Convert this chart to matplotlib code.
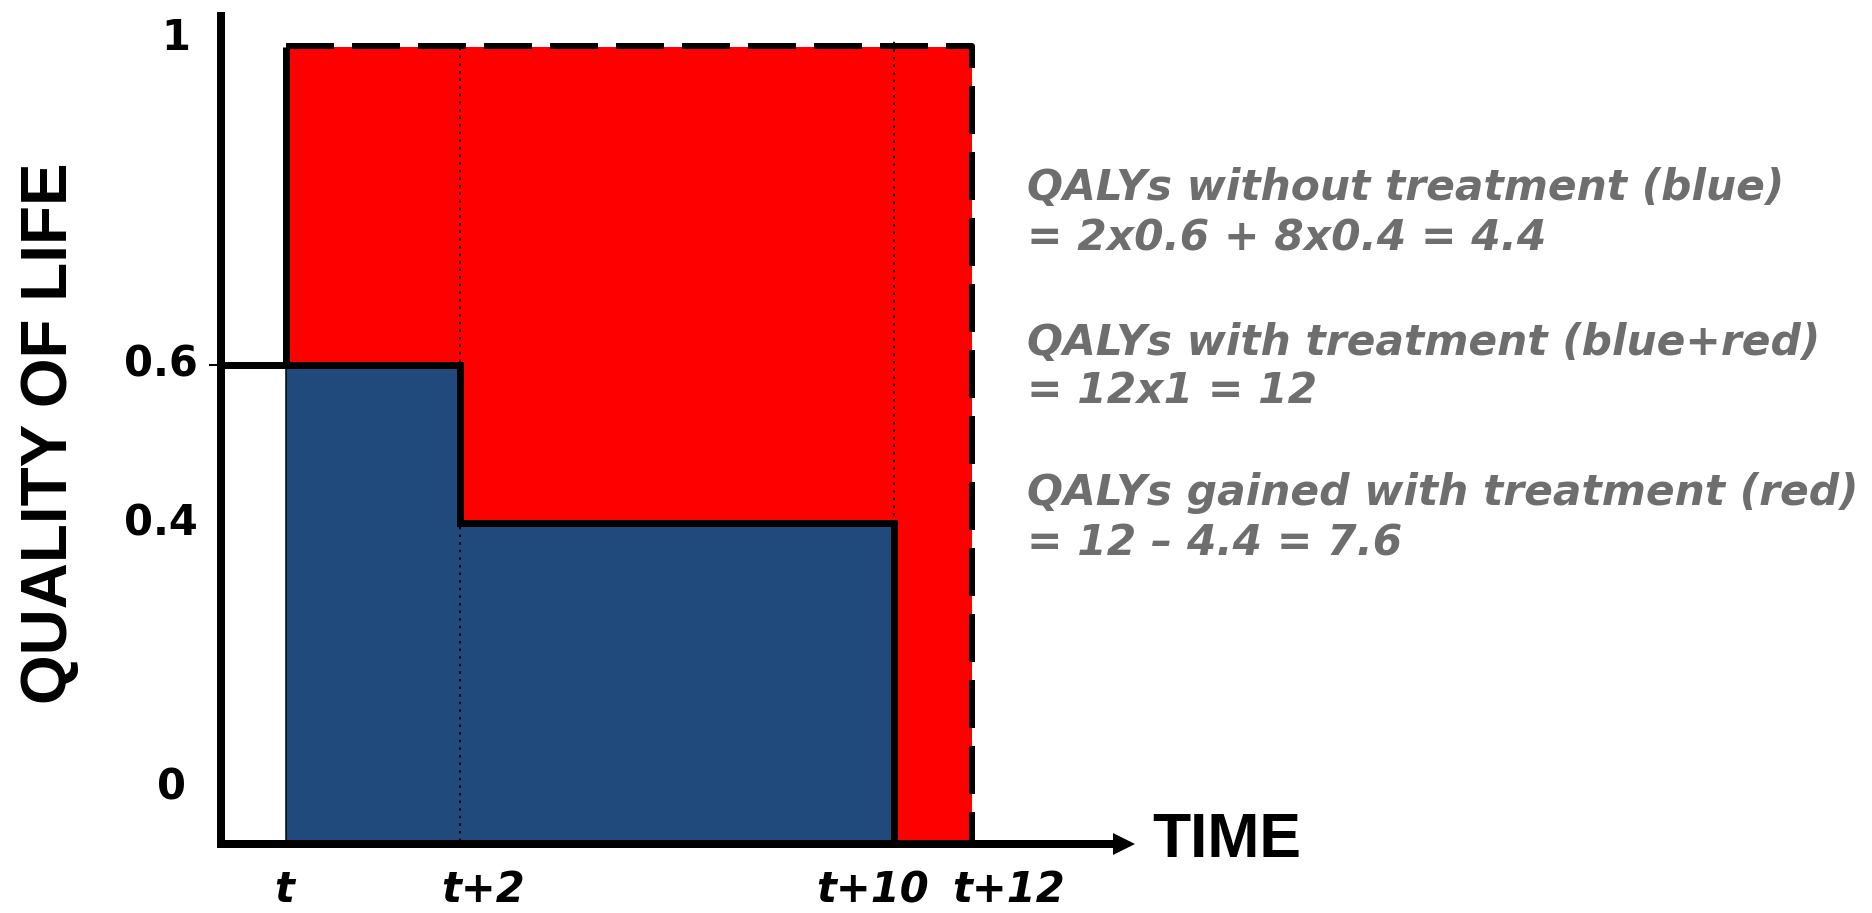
import numpy as np
import matplotlib.pyplot as plt

# --- Data (schematic positions) ---
time_labels = ["t", "t+2", "t+10", "t+12"]
time_pos = [0, 2.86, 10, 11.28]          # where each time mark sits along the axis
label_pos = [-0.04, 3.23, 9.65, 11.89]   # where the tick texts sit

qol_without = [0.6, 0.4]                 # blue steps: t..t+2, t+2..t+10
qol_with = 1.0                           # red block: t..t+12

ytick_vals = [1.011, 0.6, 0.4, 0.067]
ytick_text = ["1", "0.6", "0.4", "0"]
ytick_x = [-1.82, -2.07, -2.07, -1.90]

notes = [
    "QALYs without treatment (blue)",
    "= 2x0.6 + 8x0.4 = 4.4",
    "QALYs with treatment (blue+red)",
    "= 12x1 = 12",
    "QALYs gained with treatment (red)",
    "= 12 \u2013 4.4 = 7.6",
]
note_y = [0.807, 0.744, 0.612, 0.552, 0.423, 0.360]

RED = "#ff0000"
BLUE = "#214a7c"
GREY = "#6e6e6e"

# --- Figure: one axes covering the canvas, 60.75 px per x unit, 794 px per y unit ---
fig = plt.figure(figsize=(18.72, 9.13), dpi=100)
ax = fig.add_axes([0, 0, 1, 1])
ax.set_xlim(-4.716, 26.1)
ax.set_ylim(-0.0907, 1.0592)
ax.axis("off")

px = 0.72  # points per pixel
axis_x = -1.078

# fills
ax.bar(time_pos[0], qol_with, width=time_pos[3] - time_pos[0], align="edge",
       color=RED, linewidth=0, zorder=1)
ax.bar(time_pos[:2], qol_without, width=np.diff(time_pos[:3]), align="edge",
       color=BLUE, linewidth=0, zorder=1)

# dotted guides
dot = dict(color="black", lw=2 * px, linestyle=(0, (1.2, 2.6)), zorder=2)
ax.plot([time_pos[1], time_pos[1]], [0, qol_with], **dot)
ax.plot([time_pos[2], time_pos[2]], [qol_without[1], 1.011], **dot)
ax.plot([time_pos[0], time_pos[0]], [0, qol_without[0]], color="black",
        lw=1.5 * px, zorder=2)

# dashed outline of "with treatment"
ax.plot([time_pos[0], time_pos[3], time_pos[3]], [1.0013, 1.0013, 0],
        color="black", lw=6 * px, linestyle=(0, (8, 3)), zorder=3)
ax.plot([time_pos[0], time_pos[0]], [qol_without[0], qol_with],
        color="black", lw=7 * px, solid_capstyle="butt", zorder=3)

# solid outline of "without treatment"
ax.plot([axis_x, time_pos[1], time_pos[1], time_pos[2], time_pos[2]],
        [qol_without[0], qol_without[0], qol_without[1], qol_without[1], 0],
        color="black", lw=7 * px, solid_joinstyle="miter",
        solid_capstyle="butt", zorder=3)

# axes lines
ax.plot([axis_x, axis_x], [-0.0088, 1.044], color="black", lw=8 * px,
        solid_capstyle="butt", zorder=4)
ax.plot([-1.14, 13.64], [-0.004, -0.004], color="black", lw=8 * px,
        solid_capstyle="butt", zorder=4)
ax.plot([13.78], [-0.004], marker=">", markersize=23 * px, color="black",
        markeredgewidth=0, zorder=4)
ax.plot([-1.26, axis_x], [qol_without[0], qol_without[0]], color="black",
        lw=2 * px, zorder=4)

# --- Text ---
for v, s, x in zip(ytick_vals, ytick_text, ytick_x):
    ax.text(x, v, s, ha="center", va="center", fontsize=30,
            fontweight="bold", family="DejaVu Sans")

for x, s in zip(label_pos, time_labels):
    ax.text(x, -0.077, s, ha="center", va="baseline", fontsize=30,
            fontweight="bold", fontstyle="italic", family="DejaVu Sans")

ax.text(-3.89, 0.514, "QUALITY OF LIFE", rotation=90, ha="center",
        va="center", fontsize=46, fontweight="bold", family="Liberation Sans")
ax.text(14.25, 0.0, "TIME", ha="left", va="center", fontsize=45,
        fontweight="bold", family="Liberation Sans")

for s, y in zip(notes, note_y):
    ax.text(12.19, y, s, ha="left", va="baseline", fontsize=30.5,
            fontweight="bold", fontstyle="italic", color=GREY,
            family="DejaVu Sans")

fig.savefig("out.png", dpi=100)
